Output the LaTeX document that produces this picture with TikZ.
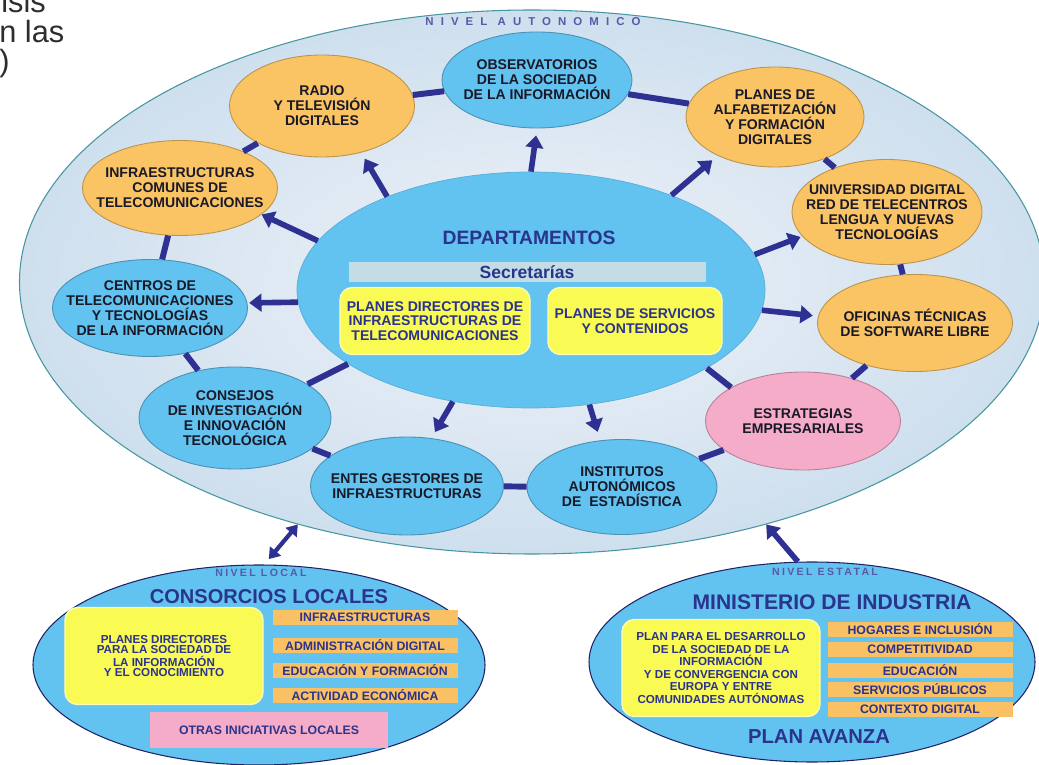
\documentclass[tikz,border=0pt]{standalone}
\usepackage{fontspec}
\setmainfont{Liberation Sans}
\newfontfamily\nivelwide{Liberation Sans}[LetterSpace=62]
\newfontfamily\nivelnarrow{Liberation Sans}[LetterSpace=22]
\usetikzlibrary{arrows.meta, shapes.geometric}

\definecolor{navy}{RGB}{46,49,146}
\definecolor{ringblue}{RGB}{98,194,240}
\definecolor{ringorange}{RGB}{250,196,100}
\definecolor{ringpink}{RGB}{245,172,200}
\definecolor{boxyellow}{RGB}{250,250,85}
\definecolor{barorange}{RGB}{250,192,100}
\definecolor{secbar}{RGB}{196,220,228}
\definecolor{bgouter}{RGB}{206,223,238}
\definecolor{bginner}{RGB}{240,243,248}
\definecolor{rimteal}{RGB}{70,150,160}
\definecolor{inktext}{RGB}{25,25,40}
\definecolor{titleblue}{RGB}{43,52,140}
\definecolor{slidegray}{RGB}{45,45,45}

\tikzset{
  ringnode/.style={ellipse, draw=#1!75!black, fill=#1, line width=0.5pt,
    inner xsep=-14pt, inner ysep=-3pt, align=center, text=inktext,
    font=\bfseries\fontsize{8}{8.6}\selectfont},
  levelnode/.style={ellipse, draw=navy!70!black, fill=ringblue, line width=0.6pt,
    inner sep=0pt},
  title/.style={inner sep=0pt, text=titleblue, font=\bfseries\fontsize{#1}{#1}\selectfont},
  yellowbox/.style={rectangle, rounded corners=2.5mm, fill=boxyellow,
    draw=boxyellow!45!white, line width=0.8pt, inner sep=0pt, align=center, text=titleblue},
  bar/.style={rectangle, fill=barorange, inner sep=0pt, minimum width=37mm,
    minimum height=3mm, text=titleblue, font=\bfseries\fontsize{7}{7}\selectfont},
  slidetext/.style={anchor=base west, inner sep=0pt, text=slidegray,
    font=\fontsize{17.5}{17.5}\selectfont},
  arr/.style={navy, line width=3.2pt, -{Triangle[length=7pt,width=10pt]}},
  link/.style={navy, line width=3.4pt},
  dblarr/.style={navy, line width=2.4pt,
    {Triangle[length=6pt,width=8pt]}-{Triangle[length=6pt,width=8pt]}},
}

\begin{document}
\begin{tikzpicture}[x=0.2mm, y=-0.2mm]
\useasboundingbox (0,0) rectangle (1039,765);

% slide text cut at the left edge
\node[slidetext] (txta) at (1,13) {isis};
\node[slidetext] (txtb) at (-1,43) {n las};
\node[slidetext] (txtc) at (-1,72) {)};

% Nivel autonomico
\node[ellipse, draw=rimteal, line width=0.6pt, inner color=bginner, outer color=bgouter,
  minimum width=205mm, minimum height=108.8mm] (auto) at (532,282) {};
\node[inner sep=0pt, text=navy!80, font=\nivelwide\bfseries\fontsize{6.5}{6.5}\selectfont] (nivaut) at (533,22) {NIVEL AUTONOMICO};

% ring of the autonomous level
\node[ringnode=ringblue, minimum width=38mm, minimum height=19.2mm] (obs) at (537,80) {OBSERVATORIOS\\DE LA SOCIEDAD\\DE LA INFORMACIÓN};
\node[ringnode=ringorange, minimum width=37mm, minimum height=20.4mm] (radio) at (322,106) {RADIO\\Y TELEVISIÓN\\DIGITALES};
\node[ringnode=ringorange, minimum width=35.6mm, minimum height=20mm] (alfab) at (775,117) {PLANES DE\\ALFABETIZACIÓN\\Y FORMACIÓN\\DIGITALES};
\node[ringnode=ringorange, minimum width=38mm, minimum height=21mm] (univ) at (887,212) {UNIVERSIDAD DIGITAL\\RED DE TELECENTROS\\LENGUA Y NUEVAS\\TECNOLOGÍAS};
\node[ringnode=ringorange, minimum width=39mm, minimum height=19.4mm] (ofic) at (915,323) {OFICINAS TÉCNICAS\\DE SOFTWARE LIBRE};
\node[ringnode=ringpink, minimum width=39mm, minimum height=19.6mm] (estr) at (803,421) {ESTRATEGIAS\\EMPRESARIALES};
\node[ringnode=ringblue, minimum width=38mm, minimum height=19mm] (inst) at (622,487) {INSTITUTOS\\AUTONÓMICOS\\DE\ \ ESTADÍSTICA};
\node[ringnode=ringblue, minimum width=38.6mm, minimum height=19.6mm] (entes) at (407,486) {ENTES GESTORES DE\\INFRAESTRUCTURAS};
\node[ringnode=ringblue, minimum width=38.4mm, minimum height=20.4mm] (consejos) at (235,418) {CONSEJOS\\DE INVESTIGACIÓN\\E INNOVACIÓN\\TECNOLÓGICA};
\node[ringnode=ringblue, minimum width=39mm, minimum height=19.4mm] (centros) at (150,308) {CENTROS DE\\TELECOMUNICACIONES\\Y TECNOLOGÍAS\\DE LA INFORMACIÓN};
\node[ringnode=ringorange, minimum width=39mm, minimum height=19mm] (infra) at (180,188) {INFRAESTRUCTURAS\\COMUNES DE\\TELECOMUNICACIONES};

% links round the ring
\draw[link] (radio) -- (obs);
\draw[link] (obs) -- (alfab);
\draw[link] (alfab) -- (univ);
\draw[link] (univ) -- (ofic);
\draw[link] (ofic) -- (estr);
\draw[link] (estr) -- (inst);
\draw[link] (inst) -- (entes);
\draw[link] (entes) -- (consejos);
\draw[link] (consejos) -- (centros);
\draw[link] (centros) -- (infra);
\draw[link] (infra) -- (radio);

% Departamentos
\node[ellipse, fill=ringblue, draw=ringblue!90!black, line width=0.4pt,
  minimum width=93.6mm, minimum height=47.2mm] (dep) at (531,290) {};
\node[title=11] (deptitle) at (529,238) {DEPARTAMENTOS};
\node[rectangle, fill=secbar, minimum width=71.4mm, minimum height=4mm, inner sep=0pt,
  text=titleblue, font=\bfseries\fontsize{10}{10}\selectfont] (sec) at (527,272) {Secretarías};
\node[yellowbox, minimum width=38mm, minimum height=13.4mm, font=\bfseries\fontsize{8}{8.2}\selectfont] (pdir) at (435,321) {PLANES DIRECTORES DE\\INFRAESTRUCTURAS DE\\TELECOMUNICACIONES};
\node[yellowbox, minimum width=34.8mm, minimum height=13.4mm, font=\bfseries\fontsize{8}{8.2}\selectfont] (pserv) at (635,321) {PLANES DE SERVICIOS\\Y CONTENIDOS};

% from Departamentos out to the ring
\draw[arr, shorten >=4pt] (dep.147) -- (radio.-50);
\draw[arr, shorten >=4pt] (dep.90) -- (obs.-90);
\draw[arr, shorten >=4pt] (dep.34) -- (alfab.214);
\draw[arr, shorten >=1pt] (dep.9) -- (univ.196);
\draw[arr, shorten >=3pt] (dep.-5) -- (ofic.176);
\draw[link] (dep.-24) -- (estr.155);
\draw[arr, shorten >=5pt] (dep.-63) -- (inst.115);
\draw[arr, shorten >=4pt] (dep.-125) -- (entes.63);
\draw[link] (dep.202) -- (consejos.25);
\draw[arr, shorten >=1pt] (dep.183) -- (centros.3);
\draw[arr] (dep.167) -- (infra.-18);

% Nivel local
\node[levelnode, minimum width=90.4mm, minimum height=40mm] (local) at (259,665) {};
\node[inner sep=0pt, text=navy!80, font=\nivelnarrow\bfseries\fontsize{6}{6}\selectfont] (nivloc) at (261,573) {NIVEL LOCAL};
\node[title=11.4] (constitle) at (269,597) {CONSORCIOS LOCALES};
\node[yellowbox, minimum width=39.6mm, minimum height=19.4mm, font=\bfseries\fontsize{6.6}{5.8}\selectfont] (pdsi) at (164,656) {PLANES DIRECTORES\\PARA LA SOCIEDAD DE\\LA INFORMACIÓN\\Y EL CONOCIMIENTO};
\node[bar] (lbar1) at (365,617) {INFRAESTRUCTURAS};
\node[bar] (lbar2) at (365,645) {ADMINISTRACIÓN DIGITAL};
\node[bar] (lbar3) at (365,670) {EDUCACIÓN Y FORMACIÓN};
\node[bar] (lbar4) at (365,695) {ACTIVIDAD ECONÓMICA};
\node[rectangle, fill=ringpink, inner sep=0pt, minimum width=47.6mm, minimum height=7.2mm,
  text=titleblue, font=\bfseries\fontsize{7}{7}\selectfont] (otras) at (269,730) {OTRAS INICIATIVAS LOCALES};

% Nivel estatal
\node[levelnode, minimum width=89.2mm, minimum height=40mm] (estatal) at (812,662) {};
\node[inner sep=0pt, text=navy!80, font=\nivelnarrow\bfseries\fontsize{6}{6}\selectfont] (nivest) at (825,572) {NIVEL ESTATAL};
\node[title=12] (mintitle) at (832,602) {MINISTERIO DE INDUSTRIA};
\node[yellowbox, minimum width=39.6mm, minimum height=19.4mm, font=\bfseries\fontsize{6.6}{7.2}\selectfont] (pdes) at (721,668) {PLAN PARA EL DESARROLLO\\DE LA SOCIEDAD DE LA\\INFORMACIÓN\\Y DE CONVERGENCIA CON\\EUROPA Y ENTRE\\COMUNIDADES AUTÓNOMAS};
\node[bar] (ebar1) at (920,629) {HOGARES E INCLUSIÓN};
\node[bar] (ebar2) at (920,649) {COMPETITIVIDAD};
\node[bar] (ebar3) at (920,670) {EDUCACIÓN};
\node[bar] (ebar4) at (920,689) {SERVICIOS PÚBLICOS};
\node[bar] (ebar5) at (920,709) {CONTEXTO DIGITAL};
\node[title=11.5] (avanza) at (819,737) {PLAN AVANZA};

% between the levels
\draw[dblarr, shorten <=4pt] (local.87) -- (auto.226);
\draw[arr] (estatal.98) -- (auto.-46);

\end{tikzpicture}
\end{document}
